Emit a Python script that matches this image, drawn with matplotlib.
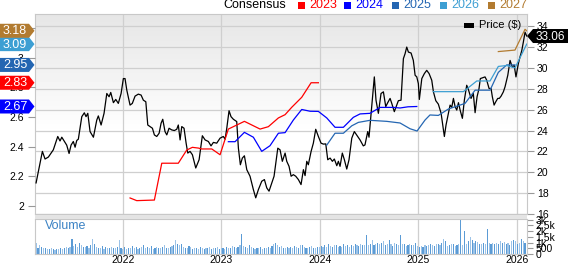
import matplotlib
matplotlib.use("Agg")
import matplotlib.pyplot as plt
from matplotlib.patches import Polygon, Rectangle
import numpy as np

plt.rcParams['font.family'] = ['Liberation Sans', 'DejaVu Sans']

# price in $, time as decimal year
price_t = [2021.120, 2021.184, 2021.211, 2021.245, 2021.295, 2021.340, 2021.363, 2021.381, 2021.431, 2021.455,
           2021.475, 2021.498, 2021.516, 2021.533, 2021.549, 2021.584, 2021.610, 2021.627, 2021.645, 2021.668,
           2021.702, 2021.736, 2021.752, 2021.780, 2021.810, 2021.838, 2021.861, 2021.878, 2021.905, 2021.929,
           2021.955, 2021.983, 2022.006, 2022.023, 2022.041, 2022.074, 2022.097, 2022.125, 2022.158, 2022.186,
           2022.209, 2022.234, 2022.254, 2022.277, 2022.301, 2022.321, 2022.345, 2022.369, 2022.389, 2022.406,
           2022.429, 2022.447, 2022.470, 2022.497, 2022.524, 2022.548, 2022.564, 2022.582, 2022.599, 2022.622,
           2022.643, 2022.660, 2022.683, 2022.707, 2022.741, 2022.775, 2022.808, 2022.836, 2022.869, 2022.896,
           2022.920, 2022.954, 2022.988, 2023.021, 2023.039, 2023.056, 2023.079, 2023.099, 2023.123, 2023.157,
           2023.174, 2023.194, 2023.214, 2023.235, 2023.259, 2023.292, 2023.326, 2023.350, 2023.377, 2023.411,
           2023.438, 2023.462, 2023.485, 2023.513, 2023.536, 2023.556, 2023.574, 2023.597, 2023.620, 2023.648,
           2023.665, 2023.688, 2023.709, 2023.732, 2023.756, 2023.783, 2023.810, 2023.834, 2023.851, 2023.868,
           2023.884, 2023.912, 2023.935, 2023.959, 2023.986, 2024.013, 2024.037, 2024.061, 2024.081, 2024.105,
           2024.128, 2024.148, 2024.173, 2024.189, 2024.206, 2024.229, 2024.250, 2024.274, 2024.297, 2024.325,
           2024.351, 2024.385, 2024.409, 2024.442, 2024.459, 2024.487, 2024.500, 2024.521, 2024.554, 2024.571,
           2024.595, 2024.622, 2024.646, 2024.670, 2024.690, 2024.714, 2024.731, 2024.757, 2024.782, 2024.798,
           2024.825, 2024.849, 2024.866, 2024.883, 2024.900, 2024.927, 2024.950, 2024.968, 2024.985, 2025.001,
           2025.011, 2025.036, 2025.062, 2025.086, 2025.110, 2025.137, 2025.154, 2025.178, 2025.204, 2025.232,
           2025.249, 2025.265, 2025.282, 2025.306, 2025.323, 2025.340, 2025.357, 2025.374, 2025.391, 2025.408,
           2025.425, 2025.448, 2025.468, 2025.492, 2025.509, 2025.536, 2025.559, 2025.577, 2025.597, 2025.617,
           2025.630, 2025.651, 2025.678, 2025.695, 2025.719, 2025.739, 2025.752, 2025.770, 2025.787, 2025.807,
           2025.823, 2025.841, 2025.864, 2025.881, 2025.909, 2025.932, 2025.954, 2025.974, 2025.992, 2026.016,
           2026.033, 2026.051, 2026.067, 2026.084, 2026.101]
price_v = [18.98, 22.0, 21.27, 21.46, 22.15, 23.43, 23.0, 23.36, 22.6, 21.8,
           22.6, 22.95, 22.4, 23.05, 23.17, 25.33, 25.7, 25.33, 25.65, 23.9,
           23.36, 25.0, 25.4, 24.53, 25.65, 27.55, 27.24, 27.65, 26.67, 26.98,
           26.6, 27.55, 28.98, 28.98, 27.87, 26.44, 26.6, 27.3, 27.49, 27.4,
           26.91, 26.76, 24.53, 24.38, 24.22, 23.58, 23.43, 23.74, 24.7, 25.08,
           23.9, 23.58, 24.22, 24.06, 24.0, 24.12, 24.53, 23.1, 24.38, 24.22,
           22.8, 21.84, 22.0, 21.68, 20.41, 21.2, 23.5, 23.1, 22.95, 22.53,
           22.86, 22.79, 23.27, 23.43, 23.17, 24.22, 25.9, 25.33, 25.08, 24.86,
           22.31, 20.72, 21.36, 21.58, 20.25, 19.62, 18.34, 17.55, 18.34, 19.14,
           19.3, 18.5, 18.19, 18.98, 19.62, 21.0, 22.31, 22.15, 21.05, 21.84,
           21.05, 20.57, 19.62, 19.77, 19.62, 19.3, 18.82, 20.25, 19.68, 21.05,
           20.72, 22.0, 22.79, 24.12, 23.43, 22.79, 22.7, 22.72, 21.2, 21.36,
           21.05, 21.27, 20.63, 21.05, 20.57, 21.84, 21.2, 20.31, 21.2, 23.27,
           23.9, 23.43, 23.1, 22.53, 22.62, 23.9, 23.36, 25.65, 29.14, 26.91,
           25.65, 27.55, 27.71, 26.29, 26.67, 27.08, 26.6, 25.81, 26.44, 26.86,
           26.91, 30.89, 31.36, 32.0, 31.52, 31.43, 30.72, 29.3, 29.14, 28.5,
           26.98, 28.98, 29.46, 29.77, 29.46, 28.82, 27.71, 26.86, 26.53, 25.65,
           24.53, 23.43, 24.53, 25.65, 26.44, 26.22, 27.08, 26.29, 25.96, 26.67,
           25.96, 25.17, 26.91, 28.34, 27.93, 27.08, 27.55, 25.71, 27.24, 28.03,
           28.98, 29.05, 29.14, 28.82, 28.03, 28.03, 27.24, 26.44, 26.76, 27.08,
           27.08, 27.3, 27.71, 28.19, 29.3, 30.72, 30.1, 30.25, 29.14, 30.41,
           31.05, 31.67, 32.48, 33.43, 33.06]

# consensus EPS estimates per fiscal year
eps23_t = [2022.074, 2022.142, 2022.321, 2022.396, 2022.564, 2022.650, 2022.707, 2022.768, 2022.802, 2022.904,
           2022.988, 2023.072, 2023.235, 2023.394, 2023.478, 2023.580, 2023.648, 2023.716, 2023.817, 2023.912,
           2023.986]
eps23_v = [2.054, 2.036, 2.04, 2.288, 2.288, 2.377, 2.395, 2.39, 2.384, 2.384,
           2.345, 2.518, 2.57, 2.518, 2.534, 2.593, 2.615, 2.665, 2.732, 2.83,
           2.83]
eps24_t = [2023.072, 2023.140, 2023.235, 2023.326, 2023.411, 2023.495, 2023.580, 2023.648, 2023.732, 2023.817,
           2023.902, 2023.986, 2024.071, 2024.155, 2024.240, 2024.341, 2024.409, 2024.510, 2024.612, 2024.747,
           2024.815, 2024.896, 2024.985]
eps24_v = [2.433, 2.433, 2.496, 2.463, 2.368, 2.406, 2.49, 2.494, 2.579, 2.65,
           2.638, 2.637, 2.593, 2.53, 2.53, 2.597, 2.62, 2.624, 2.664, 2.664,
           2.66, 2.668, 2.67]
eps25_t = [2024.071, 2024.155, 2024.240, 2024.325, 2024.392, 2024.510, 2024.680, 2024.815, 2024.917, 2024.988,
           2025.069, 2025.119, 2025.204, 2025.306, 2025.475, 2025.577, 2025.729, 2025.813, 2025.898, 2025.982]
eps25_v = [2.41, 2.49, 2.49, 2.54, 2.563, 2.577, 2.57, 2.559, 2.52, 2.505,
           2.579, 2.613, 2.61, 2.653, 2.691, 2.78, 2.78, 2.90, 2.95, 2.95]
eps26_t = [2025.153, 2025.458, 2025.594, 2025.729, 2025.813, 2025.898, 2025.982, 2026.101]
eps26_v = [2.77, 2.77, 2.842, 2.842, 2.94, 2.946, 2.93, 3.09]
eps27_t = [2025.813, 2025.982, 2026.084, 2026.101]
eps27_v = [3.04, 3.05, 3.19, 3.18]

eps_names = ['2023', '2024', '2025', '2026', '2027']
eps_colors = ['#ff0000', '#0000ff', '#2466b2', '#3d9fd3', '#b27b30']

# weekly volume, thousands
vol_start = 2021.12
vol_k = [1.0, 0.55, 0.75, 0.6, 0.5, 0.55, 0.45, 0.4, 0.5, 0.4, 0.35, 0.45, 0.4, 0.5, 0.45, 0.5,
         0.6, 0.55, 0.65, 1.3, 0.7, 0.9, 0.6, 1.0, 0.8, 0.65, 0.6, 0.7, 0.55, 0.75, 1.3, 0.9,
         0.6, 0.55, 0.5, 0.7, 0.45, 0.6, 0.55, 0.5, 0.65, 0.55, 0.5, 0.6, 1.2, 0.5, 0.45,
         0.6, 0.45, 0.5, 0.55, 0.7, 0.5, 0.6, 0.45, 0.55, 0.65, 0.8, 0.5, 0.6, 0.55, 0.7, 0.45,
         0.5, 0.6, 0.55, 0.5, 0.65, 0.75, 0.5, 0.55, 0.6, 0.7, 0.8, 1.2, 0.9, 0.75, 0.85, 0.6,
         0.55, 0.5, 0.7, 0.6, 0.45, 0.5, 0.55, 0.4, 0.6, 0.5, 0.45, 0.55, 0.5, 0.6, 0.4, 0.5,
         0.55, 0.6, 0.45, 0.5,
         0.5, 0.45, 0.6, 0.5, 0.55, 0.7, 0.6, 0.5, 0.6, 0.8, 1.74, 0.7, 0.6, 0.55, 0.75, 0.6,
         0.5, 0.45, 0.55, 0.5, 0.6, 0.45, 0.5, 0.55, 0.6, 0.5, 0.7, 0.9, 1.0, 0.8, 0.6, 0.7,
         0.55, 0.5, 0.6, 0.55, 0.65, 0.5, 0.7, 0.6, 0.55, 0.75, 0.8, 0.6, 0.55, 0.5, 0.6, 0.7,
         0.55, 0.5, 0.6, 0.65,
         0.7, 0.6, 0.8, 0.65, 0.9, 0.7, 0.6, 0.75, 0.8, 0.6, 0.7, 0.65, 0.9, 0.7, 0.8, 0.6,
         0.75, 0.7, 0.85, 0.8, 0.7, 0.9, 0.8, 0.75, 1.65, 0.8, 0.9, 1.24, 0.8, 0.9, 1.0, 0.85,
         0.95, 1.1, 0.8, 0.9, 1.2, 0.85, 0.7, 1.0, 0.9, 0.8, 1.65, 0.9, 0.85, 0.7, 0.8, 0.9,
         0.75, 0.8, 1.0, 0.7,
         0.6, 0.7, 0.65, 0.8, 0.7, 0.75, 0.9, 0.8, 0.7, 0.85, 0.9, 0.8, 1.0, 1.3, 1.1, 0.7,
         0.8, 0.9, 0.85, 0.7, 0.8, 0.9, 2.94, 0.8, 1.97, 0.9, 1.1, 1.45, 1.2, 1.0, 1.1, 1.05,
         0.9, 0.85, 0.95, 0.9, 2.2, 1.0, 0.9, 0.95, 0.85, 1.0, 0.9, 1.1, 0.95, 1.05, 0.9, 1.0,
         0.8, 1.15, 1.2, 1.1,
         0.85, 1.0, 1.3, 1.1, 1.0]

years = [2022, 2023, 2024, 2025, 2026]
price_ticks = [16, 18, 20, 22, 24, 26, 28, 30, 32, 34]
eps_ticks = [2.0, 2.2, 2.4, 2.6, 2.8, 3.0, 3.2]
vol_ticks = [0, 0.5, 1.0, 1.5, 2.0, 2.5, 3.0]
vol_labels = ['0', '500', '1k', '1.5k', '2k', '2.5k', '3k']

W, H = 568, 264
fig = plt.figure(figsize=(W / 100, H / 100), dpi=100)
fig.patch.set_facecolor('white')

x0, x1 = 2021.109, 2026.104
grid_c = '#cfcfcf'
fs = 7.5

# main price panel
ax = fig.add_axes([35 / W, 50 / H, 492 / W, 200 / H])
g = np.ones((200, 1))
g[:120, 0] = np.linspace(0.9, 1.0, 120)
ax.imshow(g, extent=[x0, x1, 16, 35.17], aspect='auto', cmap='gray',
          vmin=0, vmax=1, zorder=0, origin='upper')
ax.set_xlim(x0, x1)
ax.set_ylim(16, 35.17)
ax.set_axisbelow(True)
ax.grid(True, color=grid_c, lw=0.9)
ax.set_xticks(years)
ax.set_yticks(price_ticks)
ax.plot(price_t, price_v, color='black', lw=0.9, zorder=3)
for s in ax.spines.values():
    s.set_color('#c8c8c8')

# EPS axis on the left
ax_e = ax.twinx()
ax_e.patch.set_visible(False)
ax_e.set_ylim(1.946, 3.293)
ax_e.set_yticks(eps_ticks)
ax_e.set_yticklabels([f'{v:g}' for v in eps_ticks])
ax_e.yaxis.tick_left()
ax.yaxis.tick_right()
ax.tick_params(axis='x', length=0, labelbottom=False)
ax.tick_params(axis='y', length=5, width=0.8, color='#999999', labelsize=fs, pad=2)
ax_e.tick_params(axis='y', length=5, width=0.8, color='#999999', labelsize=fs, pad=3)
for s in ax_e.spines.values():
    s.set_visible(False)
eps_t = [eps23_t, eps24_t, eps25_t, eps26_t, eps27_t]
eps_v = [eps23_v, eps24_v, eps25_v, eps26_v, eps27_v]
for tt, vv, c in zip(eps_t, eps_v, eps_colors):
    ax_e.plot(tt, vv, color=c, lw=0.9)

# volume panel
axv = fig.add_axes([35 / W, 10 / H, 492 / W, 35 / H])
vol_x = vol_start + np.arange(len(vol_k)) / 52.18
bar_c = ['#5b9bd5' if i % 2 else '#9cc3e8' for i in range(len(vol_k))]
axv.bar(vol_x, vol_k, width=0.6 / 52.18, color=bar_c, zorder=2)
axv.set_xlim(x0, x1)
axv.set_ylim(0, 3.05)
axv.set_xticks(years)
axv.set_xticklabels([str(y) for y in years])
axv.grid(True, axis='x', color=grid_c, lw=0.9, zorder=0)
axv.set_yticks(vol_ticks)
axv.set_yticklabels(vol_labels)
axv.yaxis.tick_right()
axv.tick_params(axis='y', length=4, width=0.8, color='#999999', labelsize=fs, pad=2)
axv.tick_params(axis='x', length=0, labelsize=fs, pad=1)
for s in axv.spines.values():
    s.set_color('#c8c8c8')
axv.text(0.02, 0.72, 'Volume', transform=axv.transAxes, color='#3b82c4', fontsize=9)

# separator band between panels
fig.patches.append(Rectangle((35 / W, 45 / H), 492 / W, 4 / H, transform=fig.transFigure,
                             facecolor='#e4e4e4', edgecolor='none'))

# overlay in pixel units for tags and legend
ov = fig.add_axes([0, 0, 1, 1], zorder=10)
ov.set_xlim(0, W)
ov.set_ylim(H, 0)
ov.axis('off')
ov.patch.set_visible(False)


def to_px(axis, x, y):
    d = axis.transData.transform((x, y))
    return ov.transData.inverted().transform(d)


for vv, c in zip(eps_v, eps_colors):
    v = vv[-1]
    _, py = to_px(ax_e, 2022, v)
    ov.add_patch(Polygon([(0, py - 7), (29, py - 7), (34.5, py), (29, py + 7), (0, py + 7)],
                         closed=True, facecolor=c, edgecolor='none'))
    ov.text(3, py + 0.5, f'{v:.2f}', color='white', fontsize=9, va='center', ha='left')

# last price tag
_, py = to_px(ax, 2025, price_v[-1])
ov.add_patch(Polygon([(527, py), (533, py - 7), (568, py - 7), (568, py + 7), (533, py + 7)],
                     closed=True, facecolor='black', edgecolor='none'))
ov.text(536, py + 0.5, f'{price_v[-1]:.2f}', color='white', fontsize=8.5, va='center', ha='left')

# top legend
ov.text(223, 5, 'Consensus', fontsize=9, va='center', ha='left', color='black')
sq_x = [298, 344, 392, 440, 488]
for name, c, sx in zip(eps_names, eps_colors, sq_x):
    ov.add_patch(Rectangle((sx, 1.5), 7, 7, facecolor=c, edgecolor='none'))
    ov.text(sx + 11, 5, name, fontsize=9, va='center', ha='left', color=c)

# price legend
ov.add_patch(Rectangle((464, 23), 10, 5, facecolor='black', edgecolor='none'))
ov.text(479, 25.5, 'Price ($)', fontsize=8, va='center', ha='left', color='black')

fig.savefig('out.png', dpi=100)
